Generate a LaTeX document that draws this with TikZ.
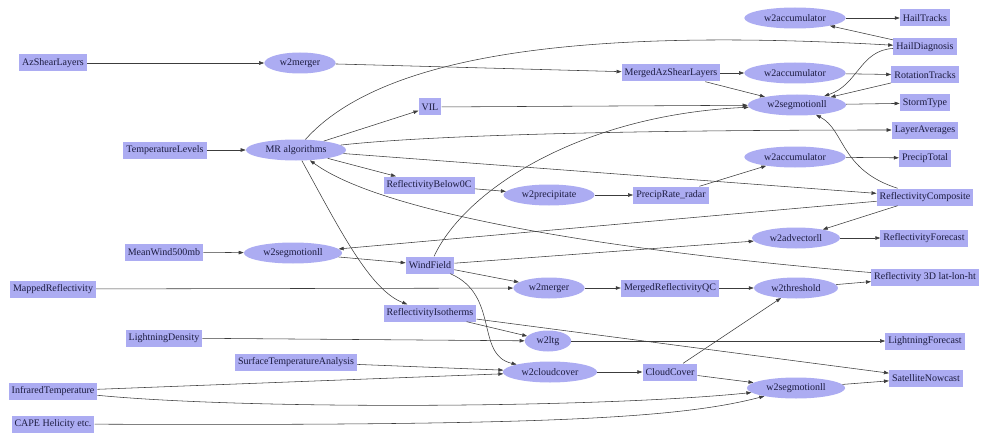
\documentclass[tikz,border=0pt]{standalone}
\usepackage{fontspec}
\setmainfont{Liberation Serif}
\usetikzlibrary{arrows.meta, shapes.geometric}

\definecolor{nodefill}{RGB}{172,172,242}
\definecolor{nodetext}{RGB}{28,28,64}
\definecolor{edgegray}{RGB}{60,60,60}

\begin{document}
\begin{tikzpicture}[x=1pt, y=-1pt,
                box/.style={fill=nodefill, text=nodetext, font=\fontsize{10}{12}\selectfont, inner xsep=3pt, inner ysep=0pt, minimum height=17pt},
                oval/.style={ellipse, fill=nodefill, text=nodetext, font=\fontsize{10}{12}\selectfont, inner xsep=5pt, inner ysep=0pt, minimum height=21pt},
                flow/.style={draw=edgegray, line width=0.55pt, -{Triangle[length=5pt,width=3.5pt]}}]
                \useasboundingbox (0,0) rectangle (984,433);

                \node[box] (azshear) at (53,63) {AzShearLayers};
                \node[oval] (merger1) at (300,63) {w2merger};
                \node[box] (mergedaz) at (671,73) {MergedAzShearLayers};
                \node[oval] (accum1) at (795,18) {w2accumulator};
                \node[box] (hailtr) at (925,18) {HailTracks};
                \node[box] (haildiag) at (925,47) {HailDiagnosis};
                \node[oval] (accum2) at (795,73) {w2accumulator};
                \node[box] (rottr) at (925,75) {RotationTracks};
                \node[oval] (segmo1) at (797,105) {w2segmotionll};
                \node[box] (stormtype) at (925,103) {StormType};
                \node[box] (layeravg) at (925,130) {LayerAverages};
                \node[oval] (accum3) at (795,157) {w2accumulator};
                \node[box] (preciptot) at (925,158) {PrecipTotal};
                \node[box] (refcomp) at (925,197) {ReflectivityComposite};
                \node[box] (vil) at (430,107) {VIL};
                \node[box] (templev) at (165,150) {TemperatureLevels};
                \node[oval] (mralg) at (296,150) {MR algorithms};
                \node[box] (refbelow) at (429,185) {ReflectivityBelow0C};
                \node[oval] (precip) at (549,195) {w2precipitate};
                \node[box] (preciprate) at (671,195) {PrecipRate\_radar};
                \node[box] (meanwind) at (164,252) {MeanWind500mb};
                \node[oval] (segmo2) at (293,253) {w2segmotionll};
                \node[box] (windfield) at (430,265) {WindField};
                \node[oval] (advect) at (796,238) {w2advectorll};
                \node[box] (refcast) at (924,238) {ReflectivityForecast};
                \node[box] (mappedref) at (53,289) {MappedReflectivity};
                \node[oval] (merger2) at (549,288) {w2merger};
                \node[box] (mergedqc) at (670,288) {MergedReflectivityQC};
                \node[oval] (thresh) at (796,288) {w2threshold};
                \node[box] (ref3d) at (925,277) {Reflectivity 3D lat-lon-ht};
                \node[box] (refiso) at (430,313) {ReflectivityIsotherms};
                \node[box] (ltgdens) at (164,338) {LightningDensity};
                \node[oval] (ltg) at (548,341) {w2ltg};
                \node[box] (ltgcast) at (925,341) {LightningForecast};
                \node[box] (sfctemp) at (296,362) {SurfaceTemperatureAnalysis};
                \node[oval] (cloud) at (550,372) {w2cloudcover};
                \node[box] (cloudcov) at (670,372) {CloudCover};
                \node[box] (irtemp) at (53,391) {InfraredTemperature};
                \node[oval] (segmo3) at (796,388) {w2segmotionll};
                \node[box] (satcast) at (926,378) {SatelliteNowcast};
                \node[box] (cape) at (53,424) {CAPE Helicity etc.};

                \draw[flow] (azshear) -- (merger1);
                \draw[flow] (merger1) -- (mergedaz);
                \draw[flow] (mergedaz) -- (accum2);
                \draw[flow] (mergedaz) -- (segmo1);
                \draw[flow] (accum1) -- (hailtr);
                \draw[flow] (haildiag) -- (accum1);
                \draw[flow] (accum2) -- (rottr);
                \draw[flow] (rottr) -- (segmo1);
                \draw[flow] (haildiag) .. controls (860,50) and (858,85) .. (segmo1);
                \draw[flow] (segmo1) -- (stormtype);
                \draw[flow] (templev) -- (mralg);
                \draw[flow] (mralg) .. controls (390,45) and (620,30) .. (haildiag);
                \draw[flow] (mralg) -- (vil);
                \draw[flow] (vil) -- (segmo1);
                \draw[flow] (mralg) .. controls (450,133) and (700,130) .. (layeravg);
                \draw[flow] (mralg) -- (refcomp);
                \draw[flow] (mralg) -- (refbelow);
                \draw[flow] (mralg) .. controls (340,230) and (370,290) .. (refiso);
                \draw[flow] (ref3d) .. controls (600,250) and (380,212) .. (mralg);
                \draw[flow] (refbelow) -- (precip);
                \draw[flow] (precip) -- (preciprate);
                \draw[flow] (preciprate) -- (accum3);
                \draw[flow] (accum3) -- (preciptot);
                \draw[flow] (refcomp) .. controls (840,170) and (845,130) .. (segmo1);
                \draw[flow] (refcomp) -- (segmo2);
                \draw[flow] (refcomp) -- (advect);
                \draw[flow] (advect) -- (refcast);
                \draw[flow] (meanwind) -- (segmo2);
                \draw[flow] (segmo2) -- (windfield);
                \draw[flow] (windfield) -- (advect);
                \draw[flow] (windfield) -- (merger2);
                \draw[flow] (windfield) .. controls (465,190) and (580,115) .. (segmo1);
                \draw[flow] (windfield) .. controls (500,295) and (475,355) .. (cloud);
                \draw[flow] (mappedref) -- (merger2);
                \draw[flow] (merger2) -- (mergedqc);
                \draw[flow] (mergedqc) -- (thresh);
                \draw[flow] (thresh) -- (ref3d);
                \draw[flow] (cloudcov) -- (thresh);
                \draw[flow] (refiso) -- (ltg);
                \draw[flow] (refiso) -- (satcast);
                \draw[flow] (ltgdens) -- (ltg);
                \draw[flow] (ltg) -- (ltgcast);
                \draw[flow] (sfctemp) -- (cloud);
                \draw[flow] (irtemp) -- (cloud);
                \draw[flow] (irtemp) .. controls (250,410) and (600,408) .. (segmo3);
                \draw[flow] (cape) .. controls (550,426) and (680,418) .. (segmo3);
                \draw[flow] (cloud) -- (cloudcov);
                \draw[flow] (cloudcov) -- (segmo3);
                \draw[flow] (segmo3) -- (satcast);
            \end{tikzpicture}
\end{document}
